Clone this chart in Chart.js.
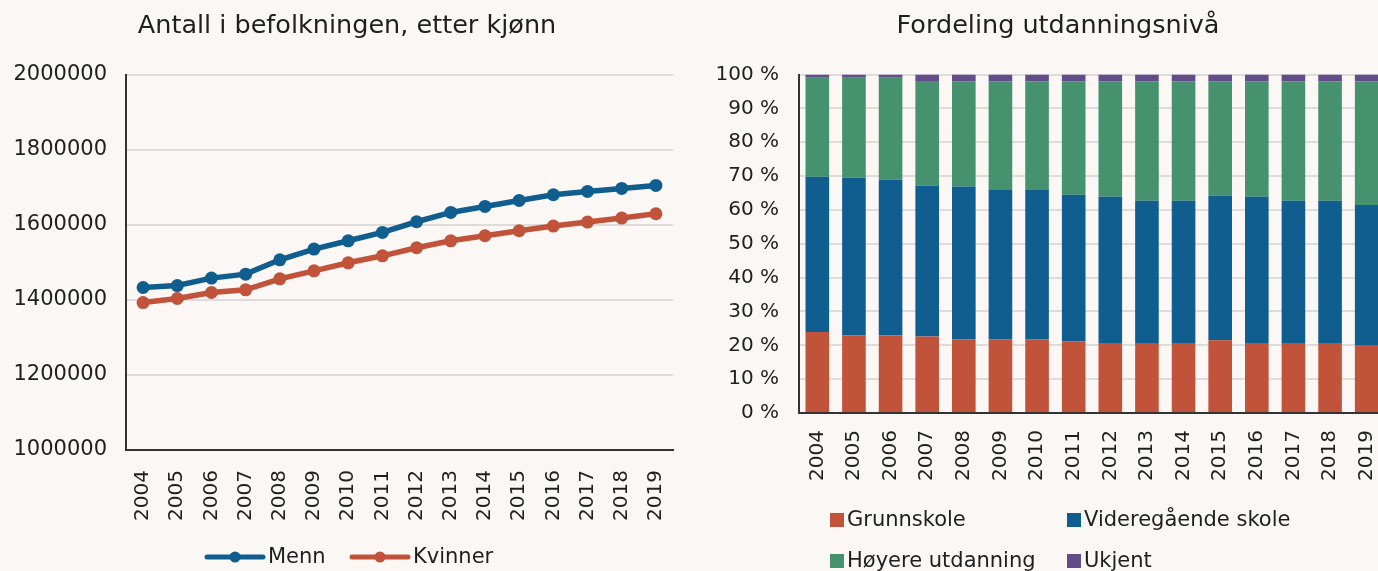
<!DOCTYPE html>
<html>
<head>
<meta charset="utf-8">
<script src="https://cdn.jsdelivr.net/npm/chart.js@4/dist/chart.umd.min.js"></script>
<style>
html, body { margin: 0; padding: 0; background: #faf7f4; overflow: hidden; width: 1378px; height: 571px; }
#left { position: absolute; left: 0; top: 0; }
#right { position: absolute; left: 700px; top: 0; }
</style>
</head>
<body>
<canvas id="left" width="685" height="571"></canvas>
<canvas id="right" width="716" height="571"></canvas>
<script>
// Data
const years = ["2004", "2005", "2006", "2007", "2008", "2009", "2010", "2011",
               "2012", "2013", "2014", "2015", "2016", "2017", "2018", "2019"];

const menn = [1432800, 1438100, 1457900, 1468500, 1506700, 1535200, 1557300, 1579500,
              1608000, 1632800, 1648800, 1664800, 1680000, 1688800, 1696800, 1704800];
const kvinner = [1392800, 1403500, 1419500, 1426700, 1456000, 1477300, 1498700, 1517300,
                 1538700, 1557300, 1570700, 1584000, 1596500, 1607200, 1617900, 1629300];

const grunnskole = [23.9, 23.0, 22.9, 22.6, 21.8, 21.8, 21.8, 21.1, 20.7, 20.7, 20.7, 21.5, 20.7, 20.7, 20.7, 19.9];
const videregaende = [45.9, 46.5, 46.0, 44.6, 45.1, 44.1, 44.1, 43.4, 43.2, 42.0, 42.0, 42.7, 43.2, 42.0, 42.0, 41.6];
const hoyere = [29.3, 29.6, 30.2, 30.9, 31.1, 32.1, 32.1, 33.5, 34.1, 35.3, 35.3, 33.8, 34.1, 35.3, 35.3, 36.5];
const ukjent = [0.9, 0.9, 0.9, 1.9, 2.0, 2.0, 2.0, 2.0, 2.0, 2.0, 2.0, 2.0, 2.0, 2.0, 2.0, 2.0];

const RED = "#c0533a";
const BLUE = "#105e8f";
const GREEN = "#46926f";
const PURPLE = "#624c8a";
const FONT = "DejaVu Sans";
const TEXT = "#1f1f1f";
const GRID = "#dedcda";
const AXIS = "#333333";

Chart.defaults.font.family = FONT;
Chart.defaults.color = TEXT;

// Excel-like legend laid out in a fixed grid
const gridLegend = {
    id: "gridLegend",
    afterDraw(chart, args, opts) {
        const ctx = chart.ctx;
        ctx.save();
        ctx.font = opts.size + "px '" + FONT + "'";
        ctx.textBaseline = "middle";
        ctx.textAlign = "left";
        chart.data.datasets.forEach((ds, i) => {
            const x = opts.cols[i % opts.cols.length];
            const y = opts.rows[Math.floor(i / opts.cols.length)];
            let tx;
            if (opts.line) {
                ctx.strokeStyle = ds.borderColor;
                ctx.lineWidth = 5;
                ctx.lineCap = "round";
                ctx.beginPath();
                ctx.moveTo(x, y);
                ctx.lineTo(x + 56, y);
                ctx.stroke();
                ctx.fillStyle = ds.borderColor;
                ctx.beginPath();
                ctx.arc(x + 28, y, 5.5, 0, Math.PI * 2);
                ctx.fill();
                tx = x + 61;
            } else {
                ctx.fillStyle = ds.backgroundColor;
                ctx.fillRect(x, y - 7, 14, 14);
                tx = x + 17;
            }
            ctx.fillStyle = TEXT;
            ctx.fillText(ds.label, tx, y + 1);
        });
        ctx.restore();
    }
};

// nudge the title sideways so it sits where the reference has it
const titleShift = {
    id: "titleShift",
    afterLayout(chart, args, opts) {
        const t = chart.titleBlock;
        if (t) {
            t.left += opts.dx;
            t.right += opts.dx;
        }
    }
};

// fixed axis sizes, no extra padding from rotated labels
function fixX(h) {
    return (scale) => { scale.height = h; scale.paddingLeft = 0; scale.paddingRight = 0; };
}
function fixY(w) {
    return (scale) => { scale.width = w; };
}

new Chart(document.getElementById("left"), {
    type: "line",
    data: {
        labels: years,
        datasets: [
            { label: "Menn", data: menn, borderColor: BLUE, backgroundColor: BLUE },
            { label: "Kvinner", data: kvinner, borderColor: RED, backgroundColor: RED }
        ]
    },
    options: {
        responsive: false,
        animation: false,
        layout: { padding: { left: 0, right: 12, top: 0, bottom: 0 } },
        elements: {
            line: { borderWidth: 5.5, tension: 0 },
            point: { radius: 6.5, borderWidth: 0, hoverRadius: 6.5 }
        },
        plugins: {
            legend: { display: false },
            tooltip: { enabled: false },
            title: {
                display: true,
                text: "Antall i befolkningen, etter kjønn",
                font: { size: 25.5, weight: "normal" },
                color: TEXT,
                padding: { top: 11, bottom: 33 }
            },
            titleShift: { dx: 10.5 },
            gridLegend: { line: true, size: 21, cols: [207, 352], rows: [557] }
        },
        scales: {
            x: {
                offset: true,
                grid: { display: false, drawTicks: false },
                border: { color: AXIS, width: 2 },
                ticks: { autoSkip: false, minRotation: 90, maxRotation: 90, padding: 20, font: { size: 20 } },
                afterFit: fixX(121)
            },
            y: {
                min: 1000000,
                max: 2000000,
                grid: { color: GRID, lineWidth: 2, drawTicks: false },
                border: { color: AXIS, width: 2 },
                ticks: { stepSize: 200000, padding: 19, font: { size: 21 }, callback: (v) => String(v) },
                afterFit: fixY(126)
            }
        }
    },
    plugins: [gridLegend, titleShift]
});

new Chart(document.getElementById("right"), {
    type: "bar",
    data: {
        labels: years,
        datasets: [
            { label: "Grunnskole", data: grunnskole, backgroundColor: RED },
            { label: "Videregående skole", data: videregaende, backgroundColor: BLUE },
            { label: "Høyere utdanning", data: hoyere, backgroundColor: GREEN },
            { label: "Ukjent", data: ukjent, backgroundColor: PURPLE }
        ]
    },
    options: {
        responsive: false,
        animation: false,
        layout: { padding: { left: 0, right: 31, top: 0, bottom: 0 } },
        datasets: {
            bar: { categoryPercentage: 1, barPercentage: 0.645, borderWidth: 0 }
        },
        plugins: {
            legend: { display: false },
            tooltip: { enabled: false },
            title: {
                display: true,
                text: "Fordeling utdanningsnivå",
                font: { size: 25.5, weight: "normal" },
                color: TEXT,
                padding: { top: 11, bottom: 33 }
            },
            titleShift: { dx: 15.5 },
            gridLegend: { line: false, size: 21, cols: [130, 367], rows: [520, 561] }
        },
        scales: {
            x: {
                stacked: true,
                grid: { display: false, drawTicks: false },
                border: { color: AXIS, width: 2 },
                ticks: { autoSkip: false, minRotation: 90, maxRotation: 90, padding: 17, font: { size: 20 } },
                afterFit: fixX(158)
            },
            y: {
                stacked: true,
                min: 0,
                max: 100,
                grid: { color: GRID, lineWidth: 2, drawTicks: false },
                border: { color: AXIS, width: 2 },
                ticks: { stepSize: 10, padding: 20, font: { size: 20 }, callback: (v) => v + " %" },
                afterFit: fixY(99)
            }
        }
    },
    plugins: [gridLegend, titleShift]
});
</script>
</body>
</html>
